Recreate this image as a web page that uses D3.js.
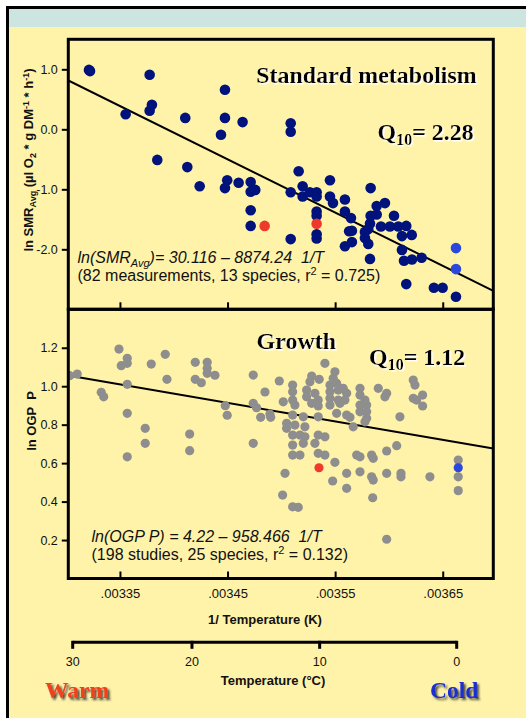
<!DOCTYPE html>
<html><head><meta charset="utf-8">
<script src="https://cdn.jsdelivr.net/npm/d3@7"></script>
<style>
html,body{margin:0;padding:0;background:#fff;}
svg{display:block;}
text{white-space:pre;}
</style></head>
<body><svg id="chart" width="526" height="718"></svg>
<script>
// ---------- DATA ----------
const xTicks = [0.00335, 0.00345, 0.00355, 0.00365];
const smrTicks = [1.0, 0.0, -1.0, -2.0];
const ogpTicks = [1.2, 1.0, 0.8, 0.6, 0.4, 0.2];
const celsiusTicks = [30, 20, 10, 0];
const smrFit = [30.116, 8874.24];   // ln(SMR) = a - b * (1/T)
const ogpFit = [4.22, 958.466];     // ln(OGP P) = a - b * (1/T)

// [1/T (K^-1), ln SMR]
const smrPoints = [[0.0033212,0.99],[0.0033222,0.97],[0.0033776,0.91],[0.0033797,0.41],[0.0033776,0.31],[0.0033553,0.25],[0.0034107,0.19],[0.0034476,0.66],[0.0034476,0.19],[0.0034640,0.12],[0.0034439,-0.09],[0.0033847,-0.51],[0.0034126,-0.63],[0.0034241,-0.95],[0.0034497,-0.85],[0.0034476,-0.98],[0.0034603,-0.89],[0.0034715,-0.88],[0.0034715,-1.04],[0.0034758,-1.01],[0.0034715,-1.35],[0.0034715,-1.61],[0.0035087,0.10],[0.0035087,-0.04],[0.0035161,-0.70],[0.0035452,-0.85],[0.0035830,-0.98],[0.0035087,-1.05],[0.0035198,-0.95],[0.0035198,-1.12],[0.0035265,-1.05],[0.0035328,-1.05],[0.0035328,-1.12],[0.0035452,-1.12],[0.0035480,-1.23],[0.0035591,-1.17],[0.0035328,-1.37],[0.0035328,-1.44],[0.0035328,-1.75],[0.0035328,-1.82],[0.0035087,-1.83],[0.0035591,-1.37],[0.0035647,-1.48],[0.0035630,-1.70],[0.0035656,-1.69],[0.0035591,-1.95],[0.0035656,-1.88],[0.0035777,-1.71],[0.0035777,-1.81],[0.0035808,-1.91],[0.0035808,-1.66],[0.0035824,-1.57],[0.0035830,-1.44],[0.0035886,-1.42],[0.0035886,-1.28],[0.0035963,-1.23],[0.0035926,-1.62],[0.0036009,-1.62],[0.0036047,-1.44],[0.0036087,-1.62],[0.0036161,-1.61],[0.0036121,-1.78],[0.0036212,-1.76],[0.0036121,-2.01],[0.0036140,-2.19],[0.0036214,-2.17],[0.0036304,-2.14],[0.0035824,-2.16],[0.0036161,-2.58],[0.0036418,-2.64],[0.0036499,-2.64],[0.0036623,-2.79]];
const smrRed = [[0.0034845,-1.61],[0.0035328,-1.575]];
const smrBlue = [[0.0036623,-1.98],[0.0036623,-2.33]];

// [1/T (K^-1), ln OGP P]
const ogpPoints = [[0.0033033,1.055],[0.0033103,1.063],[0.0033491,1.193],[0.0033568,1.145],[0.0033568,1.119],[0.0033512,1.107],[0.0033568,1.010],[0.0033326,0.968],[0.0033349,0.945],[0.0033568,0.859],[0.0033735,0.781],[0.0033735,0.703],[0.0033568,0.633],[0.0033791,1.115],[0.0033921,1.166],[0.0033937,1.036],[0.0034200,1.124],[0.0034200,1.036],[0.0034256,1.018],[0.0034311,1.124],[0.0034311,1.093],[0.0034311,1.067],[0.0034383,1.057],[0.0034479,0.899],[0.0034497,0.849],[0.0034148,0.751],[0.0034148,0.665],
[0.0034739,1.058],[0.0034981,1.027],[0.0034848,0.970],[0.0034739,0.911],[0.0034770,0.888],[0.0034808,0.838],[0.0034901,0.838],[0.0034894,0.855],[0.0034739,0.703],[0.0035018,0.919],[0.0035105,1.006],[0.0035105,0.971],[0.0035105,0.928],[0.0035126,0.902],[0.0035105,0.850],[0.0035049,0.807],[0.0035049,0.781],[0.0035126,0.798],[0.0035105,0.746],[0.0035105,0.694],[0.0035173,0.746],[0.0035204,0.841],[0.0035219,0.789],[0.0035219,0.737],[0.0035204,0.703],[0.0035105,0.642],[0.0035173,0.642],[0.0035034,0.547],[0.0035012,0.434],[0.0035105,0.373],[0.0035157,0.370],
[0.0035282,1.053],[0.0035266,1.023],[0.0035352,1.036],[0.0035235,0.980],[0.0035312,0.963],[0.0035235,0.945],[0.0035343,0.928],[0.0035282,0.911],[0.0035343,0.897],[0.0035343,0.841],[0.0035405,1.119],[0.0035498,1.075],[0.0035482,1.041],[0.0035452,1.006],[0.0035452,0.971],[0.0035514,1.015],[0.0035529,0.980],[0.0035452,0.937],[0.0035452,0.902],[0.0035575,0.989],[0.0035607,0.963],[0.0035591,0.928],[0.0035529,0.928],[0.0035545,0.911],[0.0035514,0.859],[0.0035607,0.850],[0.0035638,0.838],[0.0035343,0.746],[0.0035405,0.737],[0.0035312,0.703],[0.0035343,0.651],[0.0035405,0.642],[0.0035498,0.604],[0.0035477,0.507],[0.0035607,0.547],[0.0035607,0.469],[0.0035668,0.789],
[0.0035731,0.989],[0.0035731,0.954],[0.0035777,0.928],[0.0035731,0.902],[0.0035793,0.902],[0.0035793,0.867],[0.0035731,0.867],[0.0035793,0.833],[0.0035777,0.815],[0.0035901,0.989],[0.0035979,0.963],[0.0035963,0.945],[0.0036102,0.841],[0.0035700,0.642],[0.0035731,0.633],[0.0035839,0.642],[0.0035854,0.625],[0.0035731,0.555],[0.0035839,0.529],[0.0035854,0.512],[0.0035849,0.420],[0.0035979,0.547],[0.0035979,0.663],[0.0036072,0.691],[0.0036112,0.547],[0.0036112,0.529],[0.0036381,0.529],[0.0035979,0.204],[0.0036226,1.032],[0.0036242,1.006],[0.0036226,0.937],[0.0036257,0.928],[0.0036313,0.954],[0.0036313,0.897],[0.0036644,0.616],[0.0036644,0.529],[0.0036644,0.457]];
const ogpRed = [[0.0035350,0.576]];
const ogpBlue = [[0.0036644,0.576]];

// ---------- LAYOUT ----------
const C = {yellow:"#FFF3AA", teal:"#CCE5E0", navy:"#00127C", red:"#EE3A2C", blue:"#2A48DC", grey:"#8E8E8E"};
const svg = d3.select("#chart");
const defs = svg.append("defs");
const f1 = defs.append("filter").attr("id","dark").attr("x","-20%").attr("y","-30%").attr("width","150%").attr("height","180%");
f1.append("feDropShadow").attr("dx",2).attr("dy",2).attr("stdDeviation",1).attr("flood-color","#222").attr("flood-opacity",0.8);
const f2 = defs.append("filter").attr("id","light").attr("x","-10%").attr("y","-20%").attr("width","130%").attr("height","160%");
f2.append("feDropShadow").attr("dx",1.5).attr("dy",1.5).attr("stdDeviation",0.5).attr("flood-color","#fff").attr("flood-opacity",1);
defs.append("clipPath").attr("id","clipTop").append("rect").attr("x",68.3).attr("y",39.3).attr("width",425).attr("height",270);
defs.append("clipPath").attr("id","clipBot").append("rect").attr("x",68.3).attr("y",309.3).attr("width",425).attr("height",269.2);

// outer frame
svg.append("rect").attr("x",7.5).attr("y",7.5).attr("width",600).attr("height",800)
  .attr("fill",C.yellow).attr("stroke","#000").attr("stroke-width",3);
svg.append("rect").attr("x",9).attr("y",9).attr("width",600).attr("height",18).attr("fill",C.teal);

const L = 68.3, R = 493.3;
const x = d3.scaleLinear().domain([0.003302, 0.003697]).range([L, R]);
const yTop = d3.scaleLinear().domain([-3, 1.5]).range([309.3, 39.3]);
const yBot = d3.scaleLinear().domain([0, 1.4]).range([578.5, 309.3]);

const sans = "'Liberation Sans', Arial, sans-serif";
const serif = "'Liberation Serif', 'Times New Roman', serif";
const fmt1 = d => d.toFixed(1);

function styleAxis(g){
  g.select(".domain").remove();
  g.selectAll(".tick line").attr("stroke","#000").attr("stroke-width",2);
  g.selectAll(".tick text").attr("font-family",sans).attr("fill","#111");
}

// ----- top panel -----
const gT = svg.append("g");
gT.append("g").attr("transform",`translate(${L},0)`)
  .call(d3.axisLeft(yTop).tickValues(smrTicks).tickSize(6.5).tickPadding(4).tickFormat(fmt1))
  .call(styleAxis).call(g=>g.selectAll("text").attr("font-size",12.5));
gT.append("g").attr("transform",`translate(0,309.3)`)
  .call(d3.axisTop(x).tickValues(xTicks).tickSize(7).tickFormat(""))
  .call(styleAxis);

const cT = gT.append("g").attr("clip-path","url(#clipTop)");
cT.append("line")
  .attr("x1",x(x.domain()[0])).attr("y1",yTop(smrFit[0]-smrFit[1]*x.domain()[0]))
  .attr("x2",x(x.domain()[1])).attr("y2",yTop(smrFit[0]-smrFit[1]*x.domain()[1]))
  .attr("stroke","#000").attr("stroke-width",2);
function dots(g, data, ys, r, fill){
  g.selectAll(null).data(data).enter().append("circle")
    .attr("cx",d=>x(d[0])).attr("cy",d=>ys(d[1])).attr("r",r).attr("fill",fill);
}
dots(cT, smrPoints, yTop, 5.3, C.navy);
dots(cT, smrRed, yTop, 5.3, C.red);
dots(cT, smrBlue, yTop, 5.3, C.blue);

// ----- bottom panel -----
const gB = svg.append("g");
gB.append("g").attr("transform",`translate(${L},0)`)
  .call(d3.axisLeft(yBot).tickValues(ogpTicks).tickSize(6.5).tickPadding(4).tickFormat(fmt1))
  .call(styleAxis).call(g=>g.selectAll("text").attr("font-size",12.5));
gB.append("g").attr("transform",`translate(0,578.5)`)
  .call(d3.axisBottom(x).tickValues(xTicks).tickSizeInner(-7).tickSizeOuter(0).tickPadding(10)
        .tickFormat(d=>d.toFixed(5).replace(/^0/,"")))
  .call(styleAxis).call(g=>g.selectAll("text").attr("font-size",13));

const cB = gB.append("g").attr("clip-path","url(#clipBot)");
cB.append("line")
  .attr("x1",x(x.domain()[0])).attr("y1",yBot(ogpFit[0]-ogpFit[1]*x.domain()[0]))
  .attr("x2",x(x.domain()[1])).attr("y2",yBot(ogpFit[0]-ogpFit[1]*x.domain()[1]))
  .attr("stroke","#000").attr("stroke-width",2);
dots(cB, ogpPoints, yBot, 4.6, C.grey);
dots(cB, ogpRed, yBot, 4.6, C.red);
dots(cB, ogpBlue, yBot, 4.6, C.blue);

// panel frames
svg.append("rect").attr("x",L).attr("y",39.3).attr("width",R-L).attr("height",270)
  .attr("fill","none").attr("stroke","#000").attr("stroke-width",3);
svg.append("rect").attr("x",L).attr("y",309.3).attr("width",R-L).attr("height",269.2)
  .attr("fill","none").attr("stroke","#000").attr("stroke-width",3);

// ----- Celsius axis -----
const kx = d3.scaleLinear().domain([1/(30+273.15), 1/(0+273.15)]).range([72.7, 456.7]);
const celsius = t => kx(1/(t+273.15));
const cAxis = svg.append("g").attr("transform","translate(0,642.3)");
cAxis.append("line").attr("x1",celsius(30)).attr("x2",celsius(0)).attr("stroke","#000").attr("stroke-width",3);
const ct = cAxis.selectAll(null).data(celsiusTicks).enter().append("g").attr("transform",d=>`translate(${celsius(d)},0)`);
ct.append("line").attr("y1",-1.5).attr("y2",6.5).attr("stroke","#000").attr("stroke-width",3);
ct.append("text").attr("y",23.5).attr("text-anchor","middle").attr("font-family",sans).attr("font-size",12.5).attr("fill","#111").text(d=>d);

// ----- texts -----
function t(xp, yp, str, size, opts={}){
  return svg.append("text").attr("x",xp).attr("y",yp).text(str)
    .attr("font-family",opts.family||sans).attr("font-size",size)
    .attr("font-weight",opts.weight||"normal").attr("font-style",opts.style||"normal")
    .attr("text-anchor",opts.anchor||"start").attr("fill",opts.fill||"#111");
}
t(265,624,"1/ Temperature (K)",13,{weight:"bold",anchor:"middle"});
t(273,685,"Temperature (°C)",13,{weight:"bold",anchor:"middle"});
t(45,698,"Warm",23.5,{family:serif,weight:"bold",fill:"#F0401E"}).attr("filter","url(#dark)");
t(430,698,"Cold",23.5,{family:serif,weight:"bold",fill:"#1A2ED0"}).attr("filter","url(#dark)");

t(366.5,83,"Standard metabolism",24,{family:serif,weight:"bold",anchor:"middle",fill:"#000"}).attr("filter","url(#light)");
t(256.5,349,"Growth",24,{family:serif,weight:"bold",fill:"#000"}).attr("filter","url(#light)");

function q10(xp, yp, val){
  const q = svg.append("text").attr("x",xp).attr("y",yp).attr("font-family",serif).attr("font-weight","bold")
    .attr("font-size",24).attr("fill","#000").attr("filter","url(#light)");
  q.append("tspan").text("Q");
  q.append("tspan").attr("dy",5).attr("font-size",16).text("10");
  q.append("tspan").attr("dy",-5).text("= "+val);
}
q10(377.5,140,"2.28");
q10(369,365,"1.12");

// equations
const e1 = svg.append("text").attr("x",77.5).attr("y",262.5).attr("font-family",sans).attr("font-size",16).attr("font-style","italic").attr("fill","#111");
e1.append("tspan").text("ln(SMR");
e1.append("tspan").attr("dy",4).attr("font-size",11).text("Avg");
e1.append("tspan").attr("dy",-4).text(")= 30.116 \u2013 8874.24  1/T");
const e2 = svg.append("text").attr("x",77.5).attr("y",281).attr("font-family",sans).attr("font-size",16).attr("fill","#111");
e2.append("tspan").text("(82 measurements, 13 species, r");
e2.append("tspan").attr("dy",-6).attr("font-size",11).text("2");
e2.append("tspan").attr("dy",6).text(" = 0.725)");

const e3 = svg.append("text").attr("x",91.5).attr("y",541.5).attr("font-family",sans).attr("font-size",16).attr("font-style","italic").attr("fill","#111")
  .text("ln(OGP P) = 4.22 \u2013 958.466  1/T");
const e4 = svg.append("text").attr("x",91.5).attr("y",560).attr("font-family",sans).attr("font-size",16).attr("fill","#111");
e4.append("tspan").text("(198 studies, 25 species, r");
e4.append("tspan").attr("dy",-6).attr("font-size",11).text("2");
e4.append("tspan").attr("dy",6).text(" = 0.132)");

// y-axis titles
const yt1 = svg.append("text").attr("transform","translate(33,160) rotate(-90)").attr("text-anchor","middle")
  .attr("font-family",sans).attr("font-size",13).attr("font-weight","bold").attr("fill","#111");
yt1.append("tspan").text("ln SMR");
yt1.append("tspan").attr("dy",3).attr("font-size",9).text("Avg");
yt1.append("tspan").attr("dy",-3).text(" (\u00b5l O");
yt1.append("tspan").attr("dy",3).attr("font-size",9).text("2");
yt1.append("tspan").attr("dy",-3).text(" * g DM");
yt1.append("tspan").attr("dy",-4).attr("font-size",9).text("-1");
yt1.append("tspan").attr("dy",4).text(" * h");
yt1.append("tspan").attr("dy",-4).attr("font-size",9).text("-1");
yt1.append("tspan").attr("dy",4).text(")");
svg.append("text").attr("transform","translate(36,421) rotate(-90)").attr("text-anchor","middle")
  .attr("font-family",sans).attr("font-size",13).attr("font-weight","bold").attr("fill","#111").text("ln OGP  P");
</script></body></html>
